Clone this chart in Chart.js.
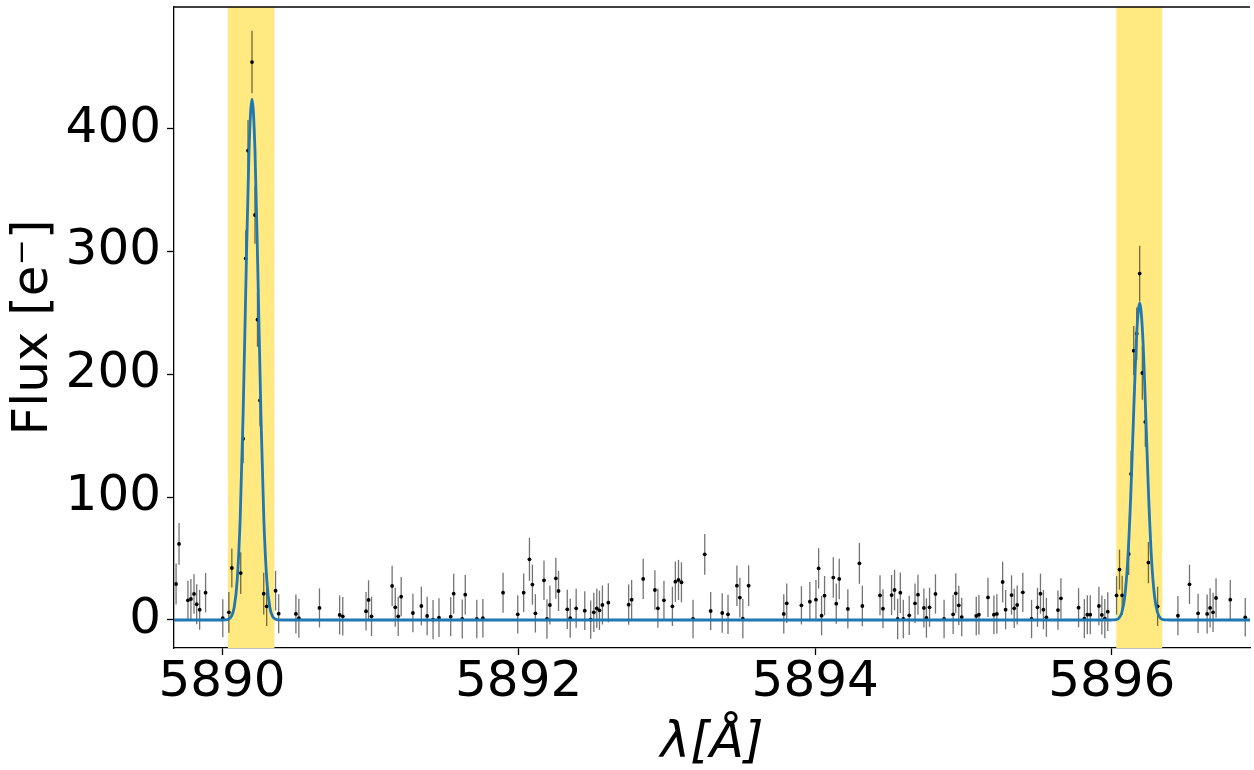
<!DOCTYPE html>
<html>
<head>
<meta charset="utf-8">
<script src="https://cdn.jsdelivr.net/npm/chart.js@4.4.0/dist/chart.umd.min.js"></script>
<style>
html,body{margin:0;padding:0;background:#fff;}
#wrap{width:1254px;height:770px;position:relative;}
canvas{display:block;}
</style>
</head>
<body>
<div id="wrap"><canvas id="c" width="1254" height="770"></canvas></div>
<script>
// Observed spectrum (wavelength in Å, flux in e-, 1-sigma error)
const wavelength = [
  5889.690, 5889.710, 5889.770, 5889.790, 5889.811, 5889.829, 5889.849, 5889.889,
  5890.005, 5890.046, 5890.066, 5890.126, 5890.142, 5890.160, 5890.175, 5890.202,
  5890.222, 5890.239, 5890.256, 5890.281, 5890.301, 5890.361, 5890.382, 5890.498,
  5890.518, 5890.657, 5890.793, 5890.814, 5890.971, 5890.988, 5891.008, 5891.147,
  5891.168, 5891.188, 5891.208, 5891.287, 5891.344, 5891.383, 5891.423, 5891.463,
  5891.542, 5891.562, 5891.620, 5891.640, 5891.718, 5891.759, 5891.895, 5891.994,
  5892.034, 5892.073, 5892.093, 5892.113, 5892.171, 5892.191, 5892.211, 5892.251,
  5892.269, 5892.328, 5892.348, 5892.388, 5892.446, 5892.486, 5892.507, 5892.527,
  5892.545, 5892.565, 5892.605, 5892.742, 5892.762, 5892.840, 5892.919, 5892.939,
  5892.980, 5893.037, 5893.057, 5893.078, 5893.098, 5893.176, 5893.255, 5893.295,
  5893.373, 5893.412, 5893.472, 5893.492, 5893.512, 5893.551, 5893.788, 5893.808,
  5893.907, 5893.964, 5894.005, 5894.023, 5894.043, 5894.063, 5894.122, 5894.142,
  5894.162, 5894.220, 5894.298, 5894.318, 5894.437, 5894.457, 5894.515, 5894.535,
  5894.556, 5894.574, 5894.594, 5894.634, 5894.673, 5894.693, 5894.733, 5894.750,
  5894.771, 5894.811, 5894.869, 5894.930, 5894.948, 5894.968, 5894.988, 5895.086,
  5895.104, 5895.165, 5895.205, 5895.225, 5895.264, 5895.284, 5895.324, 5895.342,
  5895.362, 5895.400, 5895.459, 5895.499, 5895.519, 5895.539, 5895.559, 5895.637,
  5895.657, 5895.776, 5895.815, 5895.835, 5895.855, 5895.913, 5895.933, 5895.953,
  5895.973, 5896.032, 5896.052, 5896.070, 5896.114, 5896.130, 5896.148, 5896.168,
  5896.188, 5896.206, 5896.226, 5896.247, 5896.309, 5896.446, 5896.524, 5896.582,
  5896.643, 5896.663, 5896.683, 5896.703, 5896.799, 5896.900
];
const flux = [
  29.3, 61.9, 16.0, 17.1, 21.2, 12.8, 8.4, 22.2,
  1.4, 6.2, 42.3, 38.2, 147.5, 294.3, 382.0, 454.1,
  329.6, 244.4, 178.7, 21.4, 11.1, 23.8, 5.1, 4.9,
  1.4, 9.8, 4.1, 3.0, 7.1, 16.3, 3.0, 27.7,
  10.3, 3.0, 19.0, 5.7, 11.4, 3.3, 0.3, 1.9,
  2.7, 21.4, 0.8, 20.6, 0.8, 1.4, 22.2, 4.6,
  22.2, 49.4, 28.8, 5.4, 32.3, 0.8, 12.2, 33.9,
  23.6, 8.7, 1.4, 9.5, 7.6, 0.3, 6.2, 9.5,
  7.9, 12.2, 14.1, 12.5, 16.5, 33.4, 24.4, 9.5,
  16.0, 11.1, 31.2, 32.6, 30.7, 0.8, 53.4, 7.3,
  5.7, 4.6, 27.9, 18.2, 1.1, 27.9, 4.9, 13.6,
  11.9, 14.9, 16.5, 42.0, 3.5, 19.8, 34.5, 13.3,
  33.4, 9.0, 46.1, 11.4, 20.1, 9.2, 20.3, 24.4,
  0.8, 22.2, 0.8, 3.8, 13.6, 20.6, 9.8, 1.6,
  10.3, 21.2, 0.8, 4.6, 21.7, 11.9, 2.4, 3.3,
  4.3, 18.4, 4.3, 4.9, 30.9, 8.4, 20.3, 9.5,
  12.2, 22.5, 0.8, 10.3, 21.4, 8.4, 2.2, 8.1,
  17.6, 10.0, 1.1, 4.3, 4.3, 11.4, 4.1, 1.1,
  6.8, 20.0, 41.0, 20.0, 53.7, 118.8, 219.2, 233.0,
  281.9, 201.0, 161.2, 46.7, 11.1, 3.5, 29.0, 5.4,
  4.9, 9.8, 6.2, 17.9, 16.5, 2.2
];
const fluxErr = [
  16.7, 17.0, 16.0, 16.3, 16.1, 16.3, 16.3, 16.0,
  15.5, 16.5, 15.9, 17.0, 20.0, 23.0, 25.0, 25.4,
  23.3, 22.0, 21.0, 17.0, 16.0, 16.1, 15.9, 15.9,
  15.9, 15.9, 15.9, 15.7, 15.6, 16.0, 16.0, 16.4,
  15.9, 16.0, 16.0, 15.6, 15.7, 15.7, 15.9, 15.7,
  15.9, 16.3, 15.9, 16.1, 15.6, 15.7, 16.3, 15.6,
  15.6, 17.5, 16.3, 15.6, 16.1, 16.1, 15.9, 16.7,
  16.3, 16.0, 15.9, 15.9, 15.7, 15.6, 15.9, 15.9,
  16.0, 15.9, 15.9, 16.3, 16.0, 16.4, 16.0, 15.9,
  15.9, 16.0, 16.4, 16.3, 16.3, 15.7, 16.5, 15.5,
  16.0, 16.0, 16.5, 16.1, 16.0, 16.5, 16.0, 16.0,
  15.6, 16.0, 16.0, 16.4, 16.0, 16.0, 16.5, 16.3,
  16.5, 16.0, 16.7, 16.5, 16.3, 15.9, 16.3, 16.5,
  16.5, 16.5, 15.7, 16.0, 16.0, 16.3, 15.9, 16.0,
  15.9, 16.0, 15.6, 16.0, 16.3, 16.0, 15.6, 15.7,
  16.1, 15.9, 15.7, 16.0, 16.4, 16.0, 16.0, 16.0,
  15.9, 16.0, 15.6, 15.9, 16.3, 16.0, 15.9, 16.0,
  16.3, 15.9, 15.9, 15.9, 15.9, 15.7, 15.9, 16.0,
  15.7, 15.7, 16.3, 16.0, 17.0, 19.0, 20.1, 21.4,
  22.7, 21.7, 20.3, 16.8, 16.0, 16.0, 16.0, 16.0,
  15.9, 16.0, 16.0, 16.0, 16.0, 15.6
];

// Fitted model curve
const modelWavelength = [
  5889.676, 5890.002,
  5890.022, 5890.042, 5890.062, 5890.082, 5890.102, 5890.122, 5890.142, 5890.162, 5890.182, 5890.202,
  5890.222, 5890.242, 5890.262, 5890.282, 5890.302, 5890.322, 5890.342, 5890.362, 5890.382,
  5890.402, 5895.988,
  5896.008, 5896.028, 5896.048, 5896.068, 5896.088, 5896.108, 5896.128, 5896.148, 5896.168, 5896.188,
  5896.208, 5896.228, 5896.248, 5896.268, 5896.288, 5896.308, 5896.328, 5896.348, 5896.368,
  5896.388, 5896.932
];
const modelFlux = [
  0, 0,
  0.1, 0.6, 2.7, 10.3, 32.1, 81.2, 167.4, 280.5, 382.4, 424.0,
  382.4, 280.5, 167.4, 81.2, 32.1, 10.3, 2.7, 0.6, 0.1,
  0, 0,
  0.1, 0.3, 1.6, 6.3, 19.5, 49.4, 101.8, 170.7, 232.7, 258.0,
  232.7, 170.7, 101.8, 49.4, 19.5, 6.3, 1.6, 0.3, 0.1,
  0, 0
];

// Highlighted line windows
const bandStart = [5890.039, 5896.030];
const bandEnd   = [5890.353, 5896.340];

// Axis ticks
const xTicks = [5890, 5892, 5894, 5896];
const yTicks = [0, 100, 200, 300, 400];

const X_MIN = 5889.676, X_MAX = 5896.932;
const Y_MIN = -22.8, Y_MAX = 498.9;

const FONT = "'DejaVu Sans', 'Liberation Sans', sans-serif";

const overlayPlugin = {
  id: 'overlay',
  beforeDatasetsDraw(chart) {
    const {ctx, chartArea: a, scales: {x, y}} = chart;
    ctx.save();
    ctx.beginPath();
    ctx.rect(a.left, a.top, a.right - a.left, a.bottom - a.top);
    ctx.clip();
    ctx.fillStyle = 'rgb(255,233,128)';
    for (let i = 0; i < bandStart.length; i++) {
      const x0 = x.getPixelForValue(bandStart[i]);
      const x1 = x.getPixelForValue(bandEnd[i]);
      ctx.fillRect(x0, a.top, x1 - x0, a.bottom - a.top);
    }
    ctx.strokeStyle = 'rgba(0,0,0,0.55)';
    ctx.lineWidth = 1.3;
    for (let i = 0; i < wavelength.length; i++) {
      const px = x.getPixelForValue(wavelength[i]);
      const y0 = y.getPixelForValue(flux[i] - fluxErr[i]);
      const y1 = y.getPixelForValue(flux[i] + fluxErr[i]);
      ctx.beginPath();
      ctx.moveTo(px, y0);
      ctx.lineTo(px, y1);
      ctx.stroke();
    }
    ctx.restore();
  },
  afterDraw(chart) {
    const {ctx, chartArea: a} = chart;
    ctx.save();
    ctx.strokeStyle = '#000';
    ctx.lineWidth = 1.3;
    ctx.beginPath();
    ctx.moveTo(a.left, a.top);
    ctx.lineTo(a.right, a.top);
    ctx.stroke();
    ctx.restore();
  }
};

const pointData = wavelength.map((w, i) => ({x: w, y: flux[i]}));
const modelData = modelWavelength.map((w, i) => ({x: w, y: modelFlux[i]}));

const gridCfg = {
  display: true,
  drawOnChartArea: false,
  drawTicks: true,
  tickLength: 7,
  tickWidth: 1.3,
  tickColor: '#000'
};
const borderCfg = {display: true, color: '#000', width: 1.3};

function zeroPad(s) {
  s.paddingTop = 0; s.paddingBottom = 0; s.paddingLeft = 0; s.paddingRight = 0;
}

new Chart(document.getElementById('c'), {
  type: 'scatter',
  data: {
    datasets: [
      {
        label: 'model',
        data: modelData,
        showLine: true,
        borderColor: '#1f77b4',
        borderWidth: 2.8,
        pointRadius: 0,
        cubicInterpolationMode: 'monotone',
        order: 0
      },
      {
        label: 'data',
        data: pointData,
        showLine: false,
        pointRadius: 1.9,
        pointBackgroundColor: '#000',
        pointBorderWidth: 0,
        order: 1
      }
    ]
  },
  options: {
    responsive: false,
    animation: false,
    devicePixelRatio: 1,
    layout: {padding: {top: 7, right: 0, bottom: 0, left: 0}},
    plugins: {legend: {display: false}, tooltip: {enabled: false}},
    scales: {
      x: {
        type: 'linear',
        min: X_MIN,
        max: X_MAX,
        afterBuildTicks: s => { s.ticks = xTicks.map(v => ({value: v})); },
        afterFit: s => { s.height = 122; zeroPad(s); },
        ticks: {
          color: '#000',
          font: {family: FONT, size: 50, lineHeight: 1},
          padding: 3,
          maxRotation: 0,
          autoSkip: false,
          callback: v => String(v)
        },
        grid: gridCfg,
        border: borderCfg,
        title: {
          display: true,
          text: 'λ[Å]',
          color: '#000',
          font: {family: FONT, size: 50, style: 'italic', lineHeight: 1},
          padding: {top: 0, bottom: 1}
        }
      },
      y: {
        type: 'linear',
        min: Y_MIN,
        max: Y_MAX,
        afterBuildTicks: s => { s.ticks = yTicks.map(v => ({value: v})); },
        afterFit: s => { s.width = 174; zeroPad(s); },
        ticks: {
          color: '#000',
          font: {family: FONT, size: 50, lineHeight: 1},
          padding: 6,
          autoSkip: false,
          callback: v => String(v)
        },
        grid: gridCfg,
        border: borderCfg,
        title: {
          display: true,
          text: 'Flux [e⁻]',
          color: '#000',
          font: {family: FONT, size: 50, lineHeight: 1},
          padding: {top: 9, bottom: 0}
        }
      }
    }
  },
  plugins: [overlayPlugin]
});
</script>
</body>
</html>
